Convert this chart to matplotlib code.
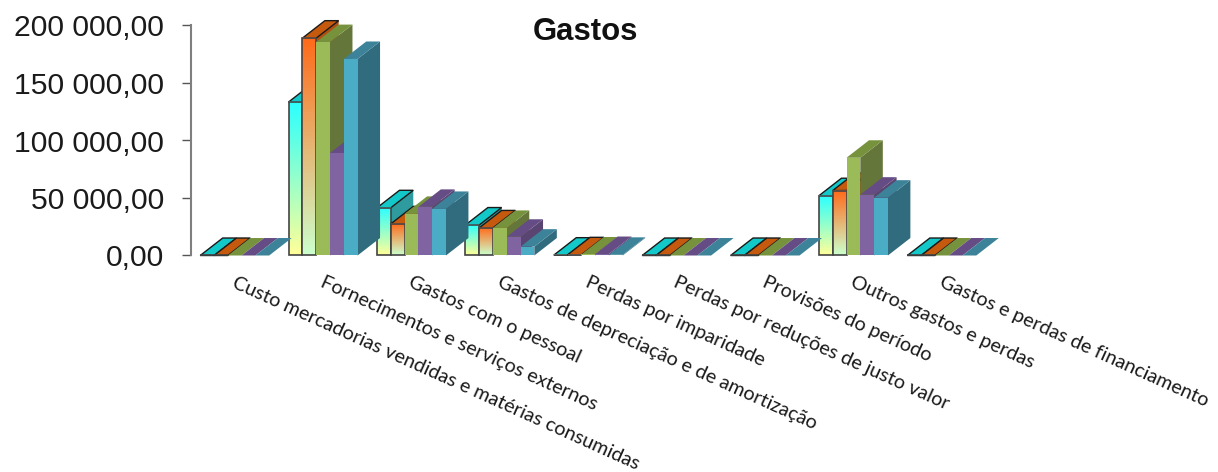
import numpy as np
import matplotlib
matplotlib.use("Agg")
import matplotlib.pyplot as plt
from matplotlib.colors import LinearSegmentedColormap

# values
categories = [
    "Custo mercadorias vendidas e matérias consumidas",
    "Fornecimentos e serviços externos",
    "Gastos com o pessoal",
    "Gastos de depreciação e de amortização",
    "Perdas por imparidade",
    "Perdas por reduções de justo valor",
    "Provisões do período",
    "Outros gastos e perdas",
    "Gastos e perdas de financiamento",
]
serie_a = [0, 133500, 41500, 26500, 300, 0, 0, 52000, 0]
serie_b = [0, 189000, 27500, 24000, 600, 0, 0, 56500, 0]
serie_c = [0, 185600, 36200, 24000, 900, 0, 0, 85000, 0]
serie_d = [0, 89100, 42300, 16300, 1300, 0, 0, 52900, 0]
serie_e = [0, 170900, 40500, 7700, 600, 0, 0, 50300, 0]
y_ticks = [0, 50000, 100000, 150000, 200000]
y_labels = ["0,00", "50 000,00", "100 000,00", "150 000,00", "200 000,00"]

series = [serie_a, serie_b, serie_c, serie_d, serie_e]
front = [("#2BFFFF", "#FFFF99"), ("#FF6A1A", "#CCFFCC"), "#9BBB59", "#8064A2", "#4BACC6"]
top_col = ["#12C8C8", "#C55A0E", "#76923C", "#664C85", "#3C8299"]
side_col = ["#2E9C9E", "#B04F10", "#65763A", "#5A4572", "#316C7E"]

W, H = 1218, 472
bar_w = 0.156
depth_x = 0.2545
depth_y = 15200

fig = plt.figure(figsize=(W / 100, H / 100), dpi=100)
ax = fig.add_axes([190.5 / W, 1 - 255.5 / H, (986 - 190.5) / W, 230 / H])

z = 2
for s, vals in enumerate(series):
    for i, v in enumerate(vals):
        x0 = i - 2.5 * bar_w + s * bar_w
        x1 = x0 + bar_w
        gradient = isinstance(front[s], tuple)
        edge = "#1a1a1a" if gradient else "none"
        # side then top
        ax.fill([x1, x1 + depth_x, x1 + depth_x, x1], [0, depth_y, v + depth_y, v],
                color=side_col[s], lw=0, zorder=z, clip_on=False)
        ax.fill([x0, x1, x1 + depth_x, x0 + depth_x], [v, v, v + depth_y, v + depth_y],
                facecolor=top_col[s], edgecolor=edge, lw=1.0, zorder=z, clip_on=False)
        if gradient:
            cmap = LinearSegmentedColormap.from_list("g", [front[s][1], front[s][0]])
            ax.imshow(np.linspace(1, 0, 64).reshape(-1, 1), cmap=cmap, aspect="auto",
                      extent=[x0, x1, 0, v], zorder=z + 0.1, clip_on=False)
            ax.bar(x0, v, bar_w, align="edge", facecolor="none", edgecolor="#444444",
                   lw=1.2, zorder=z + 0.2, clip_on=False)
        else:
            ax.bar(x0, v, bar_w, align="edge", color=front[s], lw=0, zorder=z + 0.2,
                   clip_on=False)
        z += 1

ax.set_xlim(-0.5, 8.5)
ax.set_ylim(0, 200000)
for name in ["top", "right", "bottom"]:
    ax.spines[name].set_visible(False)
ax.spines["left"].set_color("#7f7f7f")
ax.spines["left"].set_linewidth(1.5)
ax.set_yticks(y_ticks)
ax.set_yticklabels(y_labels, fontsize=21.7, family="Liberation Sans", color="#1a1a1a",
                   va="center_baseline")
ax.tick_params(axis="y", length=6.5, width=1, color="#555555", pad=12.5)
ax.set_xticks([])

trans = ax.get_xaxis_transform()
for i, name in enumerate(categories):
    ax.text(i + 0.02, -0.08, name, transform=trans, rotation=-24.3, rotation_mode="anchor",
            ha="left", va="top", fontsize=14.2, family="Lato", color="#1a1a1a")

fig.text(585.5 / W, 1 - 32 / H, "Gastos", ha="center", va="center", fontsize=22.4,
         fontweight="bold", family="Liberation Sans", color="#111111")

fig.savefig("out.png", dpi=100)
